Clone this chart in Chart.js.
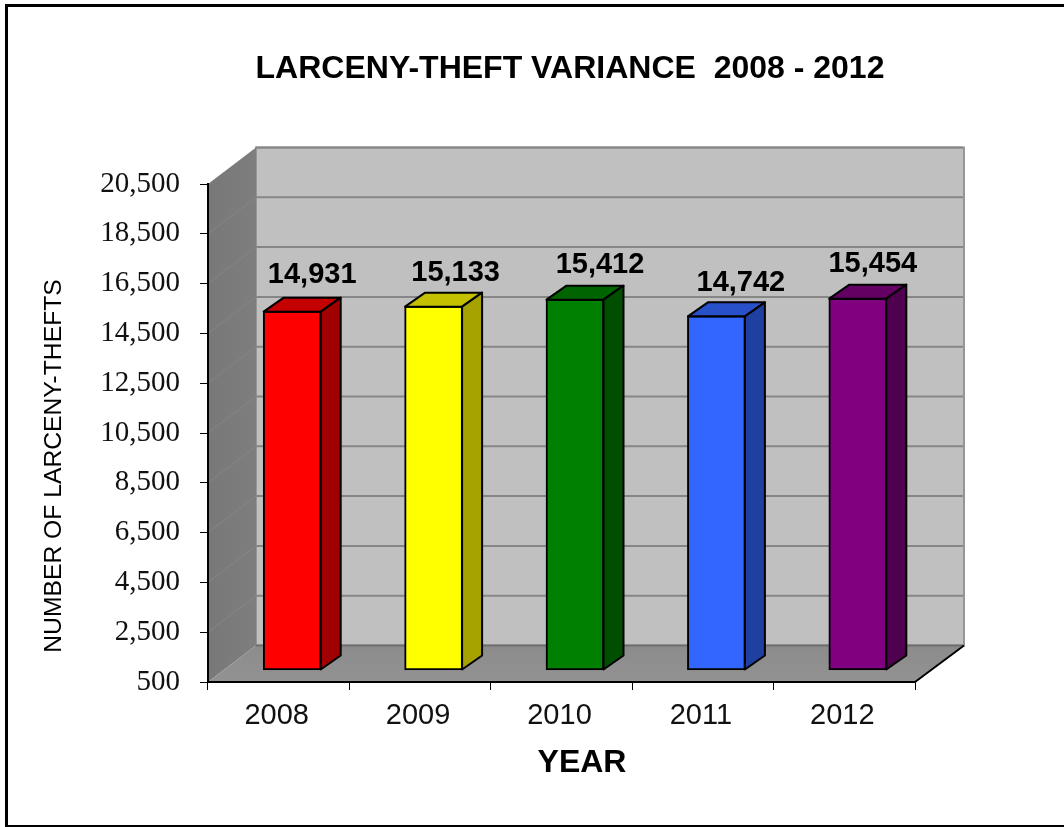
<!DOCTYPE html>
<html>
<head>
<meta charset="utf-8">
<script src="https://cdn.jsdelivr.net/npm/chart.js@4"></script>
<style>
  html, body { margin: 0; padding: 0; background: #fff; overflow: hidden; }
  canvas { filter: blur(0.4px); }
</style>
</head>
<body>
<canvas id="chart" width="1064" height="827" style="width:1064px;height:827px;display:block"></canvas>
<script>
var years = ['2008', '2009', '2010', '2011', '2012'];
var thefts = [14931, 15133, 15412, 14742, 15454];

var frontColors = ['#ff0000', '#ffff00', '#008000', '#3366ff', '#800080'];
var topColors = ['#c40000', '#c4c000', '#006400', '#2850c8', '#640064'];
var sideColors = ['#a00000', '#a6a300', '#004f00', '#1f40a0', '#4f004f'];

var chartTitle = 'LARCENY-THEFT VARIANCE  2008 - 2012';
var xTitle = 'YEAR';
var yTitle = 'NUMBER OF LARCENY-THEFTS';

// depth of the box and of the bars, in px
var wallDx = 48, wallDy = -36.5;
var barShiftX = 13.5, barShiftY = -11.5;
var barDx = 20, barDy = -14;

// the value labels were placed by hand in the original
var labelNudgeX = [-1, 1, 4, 3.5, -6];
var labelNudgeY = [2, 5, 4, 5, 4];

function fmt(v) {
  return v.toString().replace(/\B(?=(\d{3})+(?!\d))/g, ',');
}

function poly(ctx, pts, fill, stroke, lw) {
  ctx.beginPath();
  ctx.moveTo(pts[0][0], pts[0][1]);
  for (var i = 1; i < pts.length; i++) ctx.lineTo(pts[i][0], pts[i][1]);
  ctx.closePath();
  if (fill) { ctx.fillStyle = fill; ctx.fill(); }
  if (stroke) { ctx.strokeStyle = stroke; ctx.lineWidth = lw; ctx.stroke(); }
}

function line(ctx, x1, y1, x2, y2, color, lw) {
  ctx.beginPath();
  ctx.moveTo(x1, y1);
  ctx.lineTo(x2, y2);
  ctx.strokeStyle = color;
  ctx.lineWidth = lw;
  ctx.stroke();
}

// frame and the 3d box behind the bars
var boxPlugin = {
  id: 'box3d',
  beforeDraw: function(chart) {
    var ctx = chart.ctx, a = chart.chartArea, y = chart.scales.y;
    ctx.save();
    ctx.fillStyle = '#fff';
    ctx.fillRect(0, 0, chart.width, chart.height);

    line(ctx, 6.5, 5, 6.5, 827, '#000', 3);
    line(ctx, 5, 5.5, 1064, 5.5, '#000', 3);
    line(ctx, 5, 826, 1064, 826, '#000', 2);

    var l = a.left, r = a.right, t = a.top, b = a.bottom;
    poly(ctx, [[l + wallDx, t + wallDy], [r + wallDx + 1, t + wallDy], [r + wallDx + 1, b + wallDy], [l + wallDx, b + wallDy]], '#c0c0c0', '#969696', 2);

    var wall = ctx.createLinearGradient(l, 0, l + wallDx, 0);
    wall.addColorStop(0, '#787878');
    wall.addColorStop(1, '#7e7e7e');
    poly(ctx, [[l, t], [l + wallDx, t + wallDy], [l + wallDx, b + wallDy], [l, b]], wall);

    y.ticks.forEach(function(tick, i) {
      if (i === 0) return;
      var py = y.getPixelForTick(i);
      line(ctx, l + wallDx, py + wallDy, r + wallDx, py + wallDy, '#868686', 2);
      if (i < y.ticks.length - 1) line(ctx, l, py, l + wallDx, py + wallDy, '#868686', 1);
    });

    var floor = ctx.createLinearGradient(0, b + wallDy, 0, b);
    floor.addColorStop(0, '#8c8c8c');
    floor.addColorStop(1, '#929292');
    poly(ctx, [[l, b], [l + wallDx, b + wallDy], [r + wallDx + 1, b + wallDy], [r, b]], floor);
    line(ctx, l + wallDx, b + wallDy, r + wallDx, b + wallDy, '#6e6e6e', 2);
    line(ctx, r, b, r + wallDx + 1, b + wallDy, '#000', 2);
    ctx.restore();
  },
  beforeDatasetDraw: function(chart) {
    chart.ctx.save();
    chart.ctx.translate(barShiftX, barShiftY);
  },
  afterDatasetDraw: function(chart, args) {
    var ctx = chart.ctx;
    args.meta.data.forEach(function(bar, i) {
      var p = bar.getProps(['x', 'y', 'base', 'width'], true);
      var xl = p.x - p.width / 2 + 0.5, xr = p.x + p.width / 2 - 0.5;
      var yt = p.y + 0.5, yb = p.base - 0.5;
      ctx.lineJoin = 'round';
      poly(ctx, [[xl, yt], [xl + barDx, yt + barDy], [xr + barDx, yt + barDy], [xr, yt]], topColors[i], '#000', 2);
      poly(ctx, [[xr, yt], [xr + barDx, yt + barDy], [xr + barDx, yb + barDy], [xr, yb]], sideColors[i], '#000', 2);
    });
    ctx.restore();
  },
  afterDraw: function(chart) {
    var ctx = chart.ctx;
    ctx.save();
    ctx.fillStyle = '#000';
    ctx.textAlign = 'center';
    ctx.textBaseline = 'middle';

    ctx.font = 'bold 32px "Liberation Sans"';
    ctx.fillText(chartTitle, 570, 69);
    ctx.fillText(xTitle, 582, 763);

    // value labels above each bar
    ctx.font = 'bold 29px "Liberation Sans"';
    chart.getDatasetMeta(0).data.forEach(function(bar, i) {
      var p = bar.getProps(['x', 'y'], true);
      ctx.fillText(fmt(thefts[i]), p.x + barShiftX + barDx + 1 + labelNudgeX[i], p.y - 11.5 + barDy - 24 + labelNudgeY[i]);
    });

    ctx.translate(54, 466);
    ctx.rotate(-Math.PI / 2);
    ctx.font = '24.7px "Liberation Sans"';
    ctx.fillText(yTitle, 0, 0);
    ctx.restore();
  }
};

var ctx = document.getElementById('chart').getContext('2d');
var myChart = new Chart(ctx, {
  type: 'bar',
  data: {
    labels: years,
    datasets: [{
      data: thefts,
      base: 500,
      backgroundColor: frontColors,
      borderColor: '#000',
      borderWidth: 2,
      borderSkipped: false,
      barThickness: 58
    }]
  },
  plugins: [boxPlugin],
  options: {
    responsive: false,
    animation: false,
    layout: { padding: { left: 0, top: 184, right: 149, bottom: 0 } },
    plugins: {
      legend: { display: false },
      tooltip: { enabled: false }
    },
    scales: {
      x: {
        afterFit: function(scale) { scale.height = 145; },
        border: { color: '#000', width: 2 },
        grid: { drawOnChartArea: false, color: '#000', lineWidth: 1, tickLength: 8 },
        ticks: {
          color: '#111',
          font: { family: 'Liberation Sans', size: 29 },
          padding: 9,
          labelOffset: -2,
          maxRotation: 0
        }
      },
      y: {
        min: 500,
        max: 20500,
        afterFit: function(scale) { scale.width = 208; },
        border: { color: '#000', width: 2 },
        grid: { drawOnChartArea: false, color: '#000', lineWidth: 1, tickLength: 8 },
        ticks: {
          stepSize: 2000,
          color: '#111',
          font: { family: 'Liberation Serif', size: 29 },
          padding: 20,
          callback: function(v) { return fmt(v); }
        }
      }
    }
  }
});
</script>
</body>
</html>
